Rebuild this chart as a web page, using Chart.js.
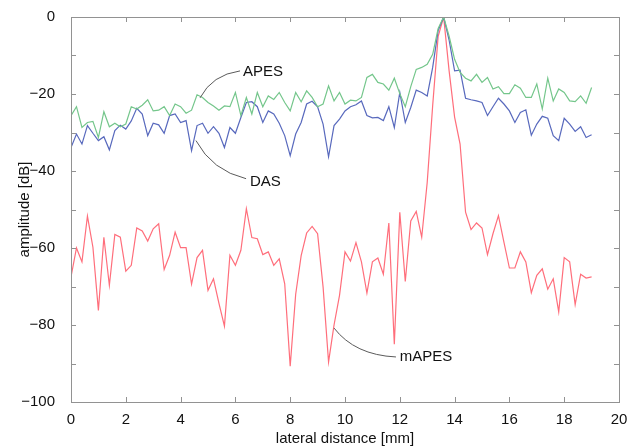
<!DOCTYPE html>
<html>
<head>
<meta charset="utf-8">
<script src="https://cdn.jsdelivr.net/npm/chart.js@4.4.1/dist/chart.umd.min.js"></script>
<style>
  html, body { margin: 0; padding: 0; background: #fff; }
  #wrap { width: 638px; height: 448px; }
</style>
</head>
<body>
<div id="wrap"><canvas id="beamChart" width="638" height="448"></canvas></div>
<script>
// lateral positions [mm], one sample every 0.2 mm
const distance = [
  0, 0.2, 0.4, 0.6, 0.8, 1, 1.2, 1.4, 1.6, 1.8, 2, 2.2, 2.4, 2.6, 2.8, 3, 3.2, 3.4, 3.6, 3.8,
  4, 4.2, 4.4, 4.6, 4.8, 5, 5.2, 5.4, 5.6, 5.8, 6, 6.2, 6.4, 6.6, 6.8, 7, 7.2, 7.4, 7.6, 7.8,
  8, 8.2, 8.4, 8.6, 8.8, 9, 9.2, 9.4, 9.6, 9.8, 10, 10.2, 10.4, 10.6, 10.8, 11, 11.2, 11.4, 11.6, 11.8,
  12, 12.2, 12.4, 12.6, 12.8, 13, 13.2, 13.4, 13.6, 13.8, 14, 14.2, 14.4, 14.6, 14.8, 15, 15.2, 15.4, 15.6, 15.8,
  16, 16.2, 16.4, 16.6, 16.8, 17, 17.2, 17.4, 17.6, 17.8, 18, 18.2, 18.4, 18.6, 18.8, 19
];

const apes = [
  -25.6, -23.3, -28.7, -27.4, -27.1, -31.3, -24.6, -28.5, -27.6, -28.5,
  -27.8, -23.3, -23.9, -22.9, -21.5, -24.4, -24.2, -23.3, -25.6, -22.6,
  -23.3, -25.0, -24.2, -20.2, -20.9, -22.2, -23.1, -24.2, -23.1, -23.3,
  -19.6, -25.6, -20.9, -25.2, -19.6, -23.3, -20.5, -21.4, -19.6, -22.2,
  -24.4, -19.6, -22.0, -19.2, -20.9, -23.3, -22.6, -17.9, -21.8, -19.6,
  -22.6, -21.6, -21.8, -20.9, -15.7, -14.9, -17.0, -17.4, -19.0, -15.9,
  -19.9, -23.3, -18.1, -13.6, -13.1, -12.3, -9.7, -3.0, 0, -5.0,
  -11.0, -14.4, -15.9, -16.6, -14.9, -17.0, -15.7, -18.7, -18.1, -19.9,
  -19.9, -17.6, -18.5, -20.9, -20.9, -17.4, -23.9, -15.9, -21.8, -18.7,
  -19.6, -21.8, -22.0, -20.5, -22.4, -18.3
];

const das = [
  -33.9, -30.4, -33.0, -28.2, -30.2, -32.1, -31.1, -34.5, -29.5, -28.1,
  -29.1, -27.0, -23.7, -25.2, -30.8, -27.6, -28.0, -30.2, -25.6, -25.2,
  -27.4, -26.9, -34.7, -28.2, -27.6, -30.2, -28.5, -30.2, -33.9, -28.7,
  -30.2, -26.1, -22.2, -22.0, -23.3, -27.4, -24.4, -25.2, -27.6, -30.8,
  -36.0, -30.4, -27.4, -22.6, -21.9, -23.3, -27.8, -36.3, -28.2, -26.5,
  -24.4, -23.3, -22.8, -21.8, -25.6, -26.2, -26.1, -26.9, -23.3, -28.7,
  -19.6, -27.4, -23.5, -19.0, -19.6, -20.5, -13.1, -3.5, 0, -6.0,
  -14.0, -13.8, -21.1, -21.5, -21.8, -22.2, -25.6, -23.3, -21.1, -22.6,
  -24.4, -27.4, -24.8, -24.1, -30.7, -27.8, -25.8, -26.3, -30.8, -32.1,
  -26.3, -27.8, -29.7, -28.5, -31.3, -30.6
];

const mapes = [
  -67.5, -60.0, -63.6, -51.7, -59.8, -76.2, -57.2, -69.7, -56.5, -57.2,
  -66.0, -64.5, -54.8, -55.6, -58.2, -55.0, -53.7, -65.6, -61.9, -55.9,
  -59.9, -59.9, -69.4, -62.5, -60.6, -71.0, -68.0, -74.4, -80.3, -61.9,
  -64.5, -60.6, -49.8, -57.3, -57.6, -61.7, -61.0, -64.5, -62.8, -69.3,
  -90.7, -72.0, -62.0, -56.1, -54.4, -56.3, -70.1, -89.6, -80.0, -72.3,
  -61.0, -63.4, -58.6, -63.6, -71.7, -63.6, -62.6, -66.8, -53.5, -85.0,
  -50.7, -68.7, -53.0, -50.5, -57.2, -43.0, -23.0, -5.0, 0, -14.0,
  -26.0, -33.0, -50.7, -55.2, -53.5, -54.8, -61.7, -56.3, -51.6, -58.5,
  -65.2, -65.2, -61.0, -63.6, -71.6, -67.1, -65.4, -70.7, -68.0, -76.6,
  -62.5, -63.6, -74.7, -66.8, -67.8, -67.5
];

const xTicks = [0, 2, 4, 6, 8, 10, 12, 14, 16, 18, 20];
const yTicks = [0, -10, -20, -30, -40, -50, -60, -70, -80, -90, -100];

// text labels with curved leader lines, in data coordinates
const notes = [
  { text: 'APES',  at: [6.28, -14.2], from: [6.17, -14.0], ctrl: [5.15, -15.0], to: [4.71, -21.0] },
  { text: 'DAS',   at: [6.53, -42.7], from: [6.39, -42.0], ctrl: [5.15, -39.9], to: [4.56, -32.1] },
  { text: 'mAPES', at: [12.0, -88.3], from: [11.86, -88.3], ctrl: [10.36, -87.8], to: [9.60, -80.8] }
];

const FONT = '"Liberation Sans", Arial, Helvetica, sans-serif';

function toPoints(ys) {
  return ys.map((y, i) => ({ x: distance[i], y: y }));
}

function minusLabel(v) {
  return v < 0 ? '\u2212' + Math.abs(v) : String(v);
}

// frame + inward tick marks + annotations (matlab style)
const frameAndNotes = {
  id: 'frameAndNotes',
  afterDatasetsDraw(chart) {
    const { ctx, chartArea: a, scales } = chart;
    const xs = scales.x, ys = scales.y;
    ctx.save();
    ctx.strokeStyle = '#929292';
    ctx.lineWidth = 1;
    ctx.strokeRect(Math.round(a.left) + 0.5, Math.round(a.top) + 0.5,
      Math.round(a.right - a.left), Math.round(a.bottom - a.top));
    ctx.beginPath();
    xTicks.forEach(v => {
      const px = Math.round(xs.getPixelForValue(v)) + 0.5;
      ctx.moveTo(px, a.bottom); ctx.lineTo(px, a.bottom - 5);
      ctx.moveTo(px, a.top); ctx.lineTo(px, a.top + 5);
    });
    yTicks.forEach(v => {
      const py = Math.round(ys.getPixelForValue(v)) + 0.5;
      ctx.moveTo(a.left, py); ctx.lineTo(a.left + 5, py);
      ctx.moveTo(a.right, py); ctx.lineTo(a.right - 5, py);
    });
    ctx.stroke();

    ctx.strokeStyle = '#5a5a5a';
    ctx.fillStyle = '#111';
    ctx.font = '15px ' + FONT;
    ctx.textBaseline = 'middle';
    notes.forEach(n => {
      ctx.beginPath();
      ctx.moveTo(xs.getPixelForValue(n.from[0]), ys.getPixelForValue(n.from[1]));
      ctx.quadraticCurveTo(xs.getPixelForValue(n.ctrl[0]), ys.getPixelForValue(n.ctrl[1]),
        xs.getPixelForValue(n.to[0]), ys.getPixelForValue(n.to[1]));
      ctx.stroke();
      ctx.fillText(n.text, xs.getPixelForValue(n.at[0]), ys.getPixelForValue(n.at[1]));
    });
    ctx.restore();
  }
};

const ctx = document.getElementById('beamChart');

new Chart(ctx, {
  type: 'line',
  data: {
    datasets: [
      { label: 'APES',  data: toPoints(apes),  borderColor: '#74c68b', borderWidth: 1.2, pointRadius: 0, tension: 0 },
      { label: 'DAS',   data: toPoints(das),   borderColor: '#5869bd', borderWidth: 1.2, pointRadius: 0, tension: 0 },
      { label: 'mAPES', data: toPoints(mapes), borderColor: '#ff6e7b', borderWidth: 1.2, pointRadius: 0, tension: 0 }
    ]
  },
  options: {
    responsive: false,
    animation: false,
    events: [],
    layout: { padding: { top: 16, right: 19, left: 16, bottom: 0 } },
    plugins: { legend: { display: false }, tooltip: { enabled: false } },
    scales: {
      x: {
        type: 'linear',
        min: 0, max: 20,
        grid: { display: false },
        border: { display: false },
        afterBuildTicks: s => { s.ticks = xTicks.map(v => ({ value: v })); },
        afterFit: s => { s.height = 46; },
        ticks: { color: '#111', font: { family: FONT, size: 15 }, padding: 1, maxRotation: 0 },
        title: { display: true, text: 'lateral distance [mm]', color: '#111', font: { family: FONT, size: 15 }, padding: { top: 0, bottom: 0 } }
      },
      y: {
        min: -100, max: 0,
        grid: { display: false },
        border: { display: false },
        afterBuildTicks: s => { s.ticks = yTicks.map(v => ({ value: v })); },
        afterFit: s => { s.width = 55; },
        ticks: {
          color: '#111', font: { family: FONT, size: 15 }, padding: 8, autoSkip: false,
          callback: v => (v % 20 === 0 ? minusLabel(v) : '')
        },
        title: { display: true, text: 'amplitude [dB]', color: '#111', font: { family: FONT, size: 15 }, padding: { top: 0, bottom: 0 } }
      }
    }
  },
  plugins: [frameAndNotes]
});
</script>
</body>
</html>
